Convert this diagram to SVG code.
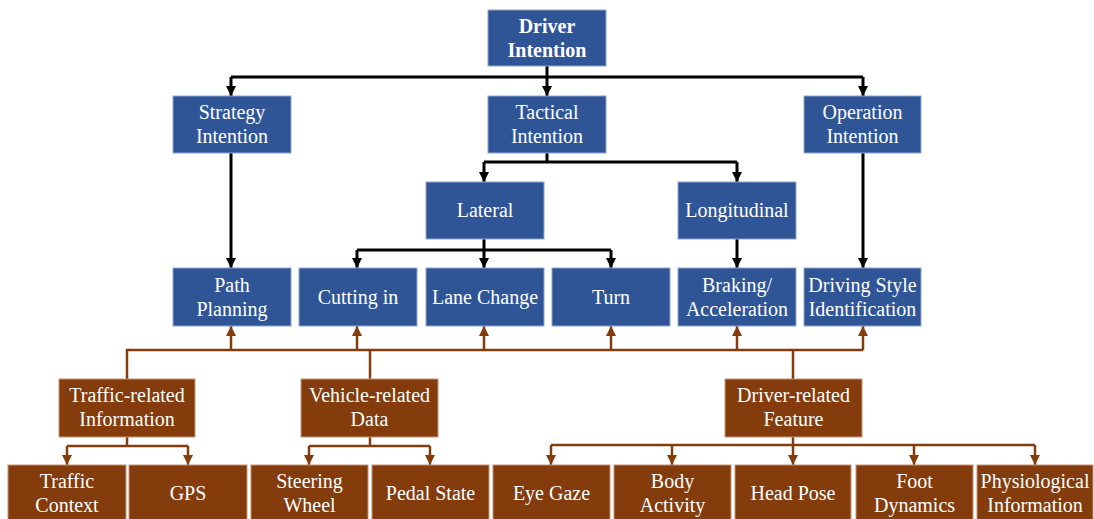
<svg xmlns="http://www.w3.org/2000/svg" width="1094" height="519" viewBox="0 0 1094 519" font-family="'Liberation Serif', 'Times New Roman', serif">
<defs>
<style>
.b{fill:#2F5597;stroke:#8FA6D0;stroke-width:1}
.r{fill:#843C0C;stroke:#C49577;stroke-width:1}
text{font-family:'Liberation Serif','Times New Roman',serif;font-size:20px;fill:#fff;text-anchor:middle}
.bold{font-weight:bold}
.k{stroke:#000;stroke-width:3;fill:none}
.o{stroke:#843C0C;stroke-width:2.5;fill:none}
</style>
<marker id="ak" viewBox="0 0 10 10" refX="10" refY="5" markerWidth="10" markerHeight="10" markerUnits="userSpaceOnUse" orient="auto"><path d="M0,0 L10,5 L0,10 z" fill="#000"/></marker>
<marker id="ao" viewBox="0 0 10 10" refX="10" refY="5" markerWidth="10" markerHeight="10" markerUnits="userSpaceOnUse" orient="auto"><path d="M0,0 L10,5 L0,10 z" fill="#843C0C"/></marker>
</defs>
<rect width="1094" height="519" fill="#fff"/>

<g id="connectors">
<path class="k" d="M547,66 V77 M231,77 H863"/>
<path class="k" d="M231,77 V96" marker-end="url(#ak)"/>
<path class="k" d="M547,77 V96" marker-end="url(#ak)"/>
<path class="k" d="M863,77 V96" marker-end="url(#ak)"/>
<path class="k" d="M547,153 V162 M484,162 H737"/>
<path class="k" d="M484,162 V182" marker-end="url(#ak)"/>
<path class="k" d="M737,162 V182" marker-end="url(#ak)"/>
<path class="k" d="M484,239 V250 M357,250 H611"/>
<path class="k" d="M357,250 V268" marker-end="url(#ak)"/>
<path class="k" d="M484,250 V268" marker-end="url(#ak)"/>
<path class="k" d="M611,250 V268" marker-end="url(#ak)"/>
<path class="k" d="M231,153 V268" marker-end="url(#ak)"/>
<path class="k" d="M737,239 V268" marker-end="url(#ak)"/>
<path class="k" d="M863,153 V268" marker-end="url(#ak)"/>
<path class="o" d="M127,379 V350 H863 M370,379 V350 M793,379 V350"/>
<path class="o" d="M231,350 V326" marker-end="url(#ao)"/>
<path class="o" d="M357,350 V326" marker-end="url(#ao)"/>
<path class="o" d="M484,350 V326" marker-end="url(#ao)"/>
<path class="o" d="M611,350 V326" marker-end="url(#ao)"/>
<path class="o" d="M737,350 V326" marker-end="url(#ao)"/>
<path class="o" d="M863,350 V326" marker-end="url(#ao)"/>
<path class="o" d="M127,437 V446 M67,446 H188"/>
<path class="o" d="M67,446 V465" marker-end="url(#ao)"/>
<path class="o" d="M188,446 V465" marker-end="url(#ao)"/>
<path class="o" d="M370,437 V446 M309,446 H430"/>
<path class="o" d="M309,446 V465" marker-end="url(#ao)"/>
<path class="o" d="M430,446 V465" marker-end="url(#ao)"/>
<path class="o" d="M793,437 V445 M551,445 H1035"/>
<path class="o" d="M551,445 V465" marker-end="url(#ao)"/>
<path class="o" d="M672,445 V465" marker-end="url(#ao)"/>
<path class="o" d="M793,445 V465" marker-end="url(#ao)"/>
<path class="o" d="M914,445 V465" marker-end="url(#ao)"/>
<path class="o" d="M1035,445 V465" marker-end="url(#ao)"/>
</g>

<g id="driver-intention"><rect class="b" x="488" y="10" width="118" height="56"/><text class="bold" x="547" y="33">Driver</text><text class="bold" x="547" y="57">Intention</text></g>

<g id="strategy-intention"><rect class="b" x="173" y="96" width="118" height="57"/><text x="232" y="119">Strategy</text><text x="232" y="143">Intention</text></g>
<g id="tactical-intention"><rect class="b" x="488" y="96" width="118" height="57"/><text x="547" y="119">Tactical</text><text x="547" y="143">Intention</text></g>
<g id="operation-intention"><rect class="b" x="804" y="96" width="117" height="57"/><text x="862.5" y="119">Operation</text><text x="862.5" y="143">Intention</text></g>

<g id="lateral"><rect class="b" x="426" y="182" width="118" height="57"/><text x="485" y="217">Lateral</text></g>
<g id="longitudinal"><rect class="b" x="678" y="182" width="118" height="57"/><text x="737" y="217">Longitudinal</text></g>

<g id="path-planning"><rect class="b" x="173" y="268" width="118" height="58"/><text x="232" y="292">Path</text><text x="232" y="316">Planning</text></g>
<g id="cutting-in"><rect class="b" x="299" y="268" width="118" height="58"/><text x="358" y="304">Cutting in</text></g>
<g id="lane-change"><rect class="b" x="426" y="268" width="118" height="58"/><text x="485" y="304">Lane Change</text></g>
<g id="turn"><rect class="b" x="552" y="268" width="118" height="58"/><text x="611" y="304">Turn</text></g>
<g id="braking"><rect class="b" x="678" y="268" width="118" height="58"/><text x="737" y="292">Braking/</text><text x="737" y="316">Acceleration</text></g>
<g id="driving-style"><rect class="b" x="804" y="268" width="117" height="58"/><text x="862.5" y="292">Driving Style</text><text x="862.5" y="316">Identification</text></g>

<g id="traffic-related"><rect class="r" x="59" y="379" width="136" height="58"/><text x="127" y="402">Traffic-related</text><text x="127" y="426">Information</text></g>
<g id="vehicle-related"><rect class="r" x="301" y="379" width="137" height="58"/><text x="369.5" y="402">Vehicle-related</text><text x="369.5" y="426">Data</text></g>
<g id="driver-related"><rect class="r" x="725" y="379" width="137" height="58"/><text x="793.5" y="402">Driver-related</text><text x="793.5" y="426">Feature</text></g>

<g id="traffic-context"><rect class="r" x="8" y="465" width="118" height="58"/><text x="67" y="488">Traffic</text><text x="67" y="512">Context</text></g>
<g id="gps"><rect class="r" x="129" y="465" width="118" height="58"/><text x="188" y="500">GPS</text></g>
<g id="steering-wheel"><rect class="r" x="251" y="465" width="117" height="58"/><text x="309.5" y="488">Steering</text><text x="309.5" y="512">Wheel</text></g>
<g id="pedal-state"><rect class="r" x="372" y="465" width="117" height="58"/><text x="430.5" y="500">Pedal State</text></g>
<g id="eye-gaze"><rect class="r" x="493" y="465" width="117" height="58"/><text x="551.5" y="500">Eye Gaze</text></g>
<g id="body-activity"><rect class="r" x="614" y="465" width="117" height="58"/><text x="672.5" y="488">Body</text><text x="672.5" y="512">Activity</text></g>
<g id="head-pose"><rect class="r" x="735" y="465" width="116" height="58"/><text x="793" y="500">Head Pose</text></g>
<g id="foot-dynamics"><rect class="r" x="856" y="465" width="117" height="58"/><text x="914.5" y="488">Foot</text><text x="914.5" y="512">Dynamics</text></g>
<g id="physiological"><rect class="r" x="977" y="465" width="116" height="58"/><text x="1035" y="488">Physiological</text><text x="1035" y="512">Information</text></g>
</svg>
